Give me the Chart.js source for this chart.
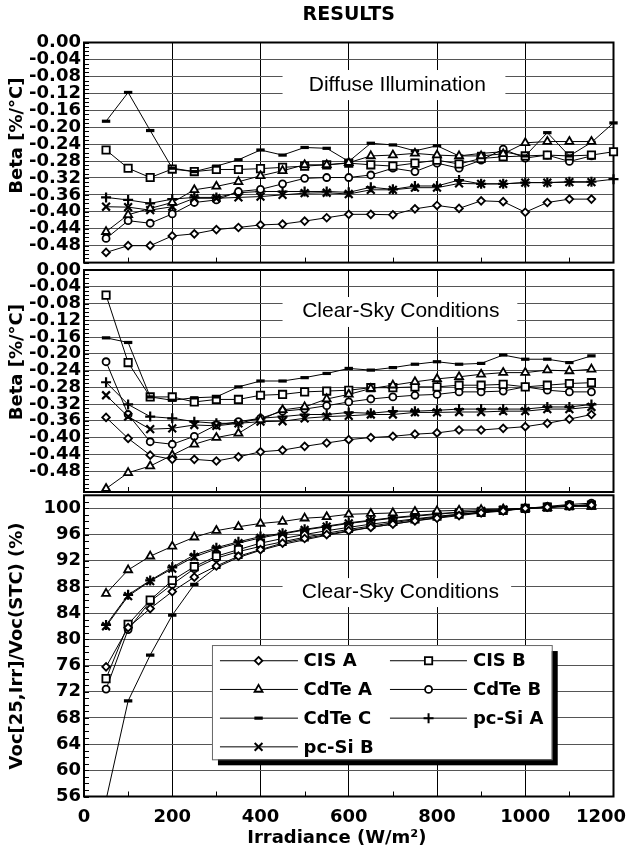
<!DOCTYPE html>
<html>
<head>
<meta charset="utf-8">
<title>Results</title>
<script src="https://cdn.jsdelivr.net/npm/chart.js@4.4.1/dist/chart.umd.min.js"></script>
<style>
  body { margin: 0; background: #fff; }
  #wrap { position: relative; width: 626px; height: 852px; overflow: hidden; }
  #wrap canvas { position: absolute; left: 0; }
</style>
</head>
<body>
<div id="wrap">
  <canvas id="diffuse" width="626" height="290" style="top:0px"></canvas>
  <canvas id="clearBeta" width="626" height="280" style="top:240px"></canvas>
  <canvas id="clearVoc" width="626" height="382" style="top:470px"></canvas>
</div>
<script>
// irradiance steps (W/m2), shared by every series
const irradiance = [50, 100, 150, 200, 250, 300, 350, 400, 450, 500, 550, 600,
                    650, 700, 750, 800, 850, 900, 950, 1000, 1050, 1100, 1150, 1200];

// tick labels
const irrTicks = [0, 200, 400, 600, 800, 1000, 1200];
const betaTicks = [0, -0.04, -0.08, -0.12, -0.16, -0.20, -0.24, -0.28, -0.32, -0.36, -0.40, -0.44, -0.48];
const vocTicks = [56, 60, 64, 68, 72, 76, 80, 84, 88, 92, 96, 100];

// panel 1 : beta, diffuse illumination (%/°C)
const diffCisA  = [-0.496, -0.480, -0.480, -0.457, -0.452, -0.442, -0.437, -0.431, -0.429, -0.422, -0.414, -0.406, -0.406, -0.407, -0.393, -0.385, -0.392, -0.374, -0.376, -0.401, -0.378, -0.370, -0.370];
const diffCisB  = [-0.254, -0.297, -0.319, -0.299, -0.305, -0.300, -0.300, -0.298, -0.295, -0.292, -0.289, -0.285, -0.289, -0.292, -0.285, -0.278, -0.287, -0.274, -0.270, -0.268, -0.266, -0.268, -0.266, -0.258];
const diffCdteA = [-0.447, -0.407, -0.392, -0.378, -0.348, -0.340, -0.329, -0.315, -0.303, -0.289, -0.289, -0.284, -0.268, -0.266, -0.262, -0.266, -0.268, -0.268, -0.263, -0.237, -0.234, -0.234, -0.234];
const diffCdteB = [-0.463, -0.421, -0.427, -0.405, -0.378, -0.372, -0.352, -0.347, -0.334, -0.321, -0.319, -0.319, -0.313, -0.297, -0.305, -0.285, -0.297, -0.278, -0.252, -0.273, -0.266, -0.281, -0.268];
const diffCdteC = [-0.186, -0.118, -0.208, -0.297, -0.305, -0.292, -0.277, -0.254, -0.266, -0.248, -0.250, -0.281, -0.238, -0.242, -0.256, -0.244, -0.268, -0.262, -0.258, -0.268, -0.213, -0.268, -0.236, -0.190];
const diffPcSiA = [-0.366, -0.372, -0.380, -0.370, -0.366, -0.366, -0.355, -0.352, -0.352, -0.352, -0.352, -0.354, -0.342, -0.347, -0.339, -0.339, -0.325, -0.334, -0.334, -0.331, -0.331, -0.329, -0.329, -0.323];
const diffPcSiB = [-0.388, -0.389, -0.396, -0.388, -0.368, -0.368, -0.366, -0.364, -0.360, -0.356, -0.355, -0.358, -0.348, -0.348, -0.343, -0.343, -0.333, -0.334, -0.334, -0.331, -0.331, -0.330, -0.330];

// panel 2 : beta, clear-sky conditions (%/°C)
const clearCisA  = [-0.352, -0.402, -0.442, -0.452, -0.452, -0.456, -0.446, -0.434, -0.430, -0.421, -0.413, -0.405, -0.400, -0.397, -0.392, -0.389, -0.382, -0.382, -0.378, -0.374, -0.366, -0.356, -0.345];
const clearCisB  = [-0.060, -0.221, -0.303, -0.303, -0.315, -0.309, -0.309, -0.299, -0.297, -0.291, -0.289, -0.287, -0.281, -0.281, -0.279, -0.279, -0.275, -0.275, -0.273, -0.279, -0.275, -0.271, -0.269];
const clearCdteA = [-0.522, -0.484, -0.468, -0.442, -0.416, -0.400, -0.390, -0.358, -0.334, -0.327, -0.308, -0.297, -0.283, -0.275, -0.267, -0.260, -0.255, -0.249, -0.245, -0.245, -0.239, -0.241, -0.237];
const clearCdteB = [-0.219, -0.345, -0.410, -0.416, -0.397, -0.370, -0.362, -0.354, -0.337, -0.332, -0.324, -0.315, -0.308, -0.303, -0.299, -0.297, -0.291, -0.291, -0.289, -0.279, -0.287, -0.291, -0.291];
const clearCdteC = [-0.162, -0.173, -0.303, -0.311, -0.305, -0.303, -0.279, -0.265, -0.265, -0.257, -0.247, -0.235, -0.239, -0.233, -0.225, -0.219, -0.225, -0.223, -0.203, -0.213, -0.213, -0.221, -0.205];
const clearPcSiA = [-0.268, -0.321, -0.350, -0.354, -0.362, -0.366, -0.366, -0.354, -0.350, -0.345, -0.345, -0.340, -0.342, -0.337, -0.337, -0.335, -0.332, -0.332, -0.332, -0.332, -0.327, -0.327, -0.321];
const clearPcSiB = [-0.299, -0.350, -0.380, -0.378, -0.370, -0.372, -0.366, -0.362, -0.361, -0.354, -0.350, -0.348, -0.345, -0.345, -0.340, -0.340, -0.339, -0.339, -0.337, -0.337, -0.332, -0.332, -0.327];

// panel 3 : Voc[25,Irr]/Voc(STC), clear-sky conditions (%)
const vocCisA  = [75.8, 81.8, 84.7, 87.3, 89.5, 91.2, 92.7, 93.7, 94.7, 95.4, 96.0, 96.6, 97.1, 97.6, 98.1, 98.5, 98.9, 99.3, 99.6, 100.0, 100.2, 100.4, 100.5];
const vocCisB  = [74.0, 82.3, 86.0, 89.0, 91.1, 92.7, 93.7, 94.7, 95.4, 96.0, 96.6, 97.1, 97.6, 98.0, 98.4, 98.8, 99.1, 99.4, 99.7, 100.0, 100.2, 100.4, 100.5];
const vocCdteA = [87.0, 90.6, 92.7, 94.2, 95.6, 96.6, 97.2, 97.7, 98.0, 98.5, 98.7, 99.1, 99.2, 99.3, 99.5, 99.6, 99.7, 99.8, 99.9, 100.0, 100.1, 100.3, 100.3];
const vocCdteB = [72.4, 81.5, 85.8, 88.4, 90.8, 92.4, 93.4, 94.2, 94.9, 95.6, 96.2, 96.8, 97.3, 97.8, 98.3, 98.7, 99.1, 99.4, 99.7, 100.0, 100.3, 100.6, 100.8];
const vocCdteC = [55.5, 70.6, 77.6, 83.7, 88.4, 91.0, 92.5, 93.6, 94.5, 95.2, 95.9, 96.5, 97.1, 97.6, 98.1, 98.6, 99.0, 99.4, 99.7, 100.0, 100.2, 100.4, 100.5];
const vocPcSiA = [82.2, 86.8, 89.0, 91.0, 92.9, 94.0, 94.9, 95.7, 96.2, 96.8, 97.3, 97.8, 98.2, 98.6, 98.9, 99.2, 99.4, 99.6, 99.8, 100.0, 100.2, 100.4, 100.5];
const vocPcSiB = [82.0, 86.6, 88.9, 90.8, 92.6, 93.8, 94.7, 95.5, 96.1, 96.7, 97.2, 97.7, 98.1, 98.5, 98.8, 99.1, 99.4, 99.6, 99.8, 100.0, 100.2, 100.4, 100.5];

// marker look for every module
const markers = {
  'CIS A':   { style: 'rectRot',  r: 3.8, w: 1.8 },
  'CIS B':   { style: 'rect',     r: 5.2, w: 1.8 },
  'CdTe A':  { style: 'triangle', r: 4.6, w: 1.8 },
  'CdTe B':  { style: 'circle',   r: 3.5, w: 1.8 },
  'CdTe C':  { style: 'line',     r: 4.2, w: 3.2 },
  'pc-Si A': { style: 'cross',    r: 5,   w: 2.2 },
  'pc-Si B': { style: 'crossRot', r: 5.5, w: 2.2 }
};
const legendRows = [['CIS A', 'CIS B'], ['CdTe A', 'CdTe B'], ['CdTe C', 'pc-Si A'], ['pc-Si B', null]];

const boldFont = { family: '"DejaVu Sans", sans-serif', size: 18, weight: 'bold' };
const BOLD = 'bold 18px "DejaVu Sans", sans-serif';

function makeDatasets(list) {
  return list.map(([name, arr]) => {
    const m = markers[name];
    return {
      label: name,
      data: irradiance.map((x, i) => ({ x: x, y: arr[i] })).filter(p => p.y !== undefined && p.y !== null),
      borderColor: '#000',
      borderWidth: 1,
      tension: 0,
      pointStyle: m.style,
      pointRadius: m.r,
      pointBorderWidth: m.w,
      pointBackgroundColor: '#fff',
      pointBorderColor: '#000'
    };
  });
}

// draws one legend marker the same way the chart does
function drawMarker(ctx, name, cx, cy) {
  const m = markers[name];
  const r = m.r;
  ctx.save();
  ctx.lineWidth = Math.min(m.w, 2);
  ctx.strokeStyle = '#000';
  ctx.fillStyle = '#fff';
  ctx.beginPath();
  if (m.style === 'rectRot') {
    ctx.moveTo(cx, cy - r); ctx.lineTo(cx + r, cy); ctx.lineTo(cx, cy + r); ctx.lineTo(cx - r, cy); ctx.closePath();
    ctx.fill(); ctx.stroke();
  } else if (m.style === 'rect') {
    const s = r * Math.SQRT1_2;
    ctx.rect(cx - s, cy - s, 2 * s, 2 * s); ctx.fill(); ctx.stroke();
  } else if (m.style === 'triangle') {
    ctx.moveTo(cx, cy - r); ctx.lineTo(cx + r * 0.866, cy + r * 0.5); ctx.lineTo(cx - r * 0.866, cy + r * 0.5); ctx.closePath();
    ctx.fill(); ctx.stroke();
  } else if (m.style === 'circle') {
    ctx.arc(cx, cy, r, 0, Math.PI * 2); ctx.fill(); ctx.stroke();
  } else if (m.style === 'line') {
    ctx.lineWidth = m.w;
    ctx.moveTo(cx - r, cy); ctx.lineTo(cx + r, cy); ctx.stroke();
  } else if (m.style === 'cross') {
    ctx.moveTo(cx - r, cy); ctx.lineTo(cx + r, cy); ctx.moveTo(cx, cy - r); ctx.lineTo(cx, cy + r); ctx.stroke();
  } else {
    const d = r * Math.SQRT1_2;
    ctx.moveTo(cx - d, cy - d); ctx.lineTo(cx + d, cy + d); ctx.moveTo(cx + d, cy - d); ctx.lineTo(cx - d, cy + d); ctx.stroke();
  }
  ctx.restore();
}

// frames, minor ticks, notes, titles and legend box
const panelDecor = {
  id: 'panelDecor',
  beforeDatasetsDraw(chart, args, opts) {
    const { ctx, chartArea: a, scales: { x, y } } = chart;
    ctx.save();
    if (opts.note) {
      const n = opts.note;
      const x0 = x.getPixelForValue(n.box[0]), x1 = x.getPixelForValue(n.box[1]);
      const y0 = y.getPixelForValue(n.box[2]), y1 = y.getPixelForValue(n.box[3]);
      ctx.fillStyle = '#fff';
      ctx.fillRect(x0, y0, x1 - x0, y1 - y0);
      ctx.fillStyle = '#000';
      ctx.font = '21px "Liberation Sans", Arial, sans-serif';
      ctx.textAlign = 'center';
      ctx.textBaseline = 'middle';
      ctx.fillText(n.text, x.getPixelForValue(n.at[0]), y.getPixelForValue(n.at[1]));
    }
    // minor ticks, inward
    ctx.strokeStyle = '#000';
    ctx.lineWidth = 1;
    ctx.beginPath();
    const steps = Math.round((y.max - y.min) / opts.minorY);
    for (let k = 0; k <= steps; k++) {
      const py = Math.round(y.getPixelForValue(y.max - k * opts.minorY)) + 0.5;
      ctx.moveTo(a.left, py); ctx.lineTo(a.left + 5, py);
    }
    for (let v = 100; v < 1200; v += 200) {
      const px = Math.round(x.getPixelForValue(v)) + 0.5;
      ctx.moveTo(px, a.bottom); ctx.lineTo(px, a.bottom - 5);
    }
    ctx.stroke();
    ctx.lineWidth = 2;
    ctx.strokeRect(a.left, a.top, a.right - a.left, a.bottom - a.top);
    ctx.restore();
  },
  afterDraw(chart, args, opts) {
    const { ctx, chartArea: a, scales: { x, y } } = chart;
    ctx.save();
    ctx.fillStyle = '#000';
    ctx.font = BOLD;
    ctx.textAlign = 'center';
    ctx.textBaseline = 'middle';
    if (opts.heading) {
      ctx.font = 'bold 19px "DejaVu Sans", sans-serif';
      ctx.fillText(opts.heading, (a.left + a.right) / 2, a.top - 27.5);
      ctx.font = BOLD;
    }
    // y title
    ctx.save();
    ctx.translate(17, opts.yTitleAt === undefined ? (a.top + a.bottom) / 2 : y.getPixelForValue(opts.yTitleAt));
    ctx.rotate(-Math.PI / 2);
    ctx.fillText(opts.yTitle, 0, 0);
    ctx.restore();
    if (opts.xTitle) {
      ctx.fillText(opts.xTitle, x.getPixelForValue(573), a.bottom + 41.5);
    }
    if (opts.legend) {
      const L = opts.legend;
      const bx = x.getPixelForValue(L.box[0]), bx1 = x.getPixelForValue(L.box[1]);
      const by = y.getPixelForValue(L.box[2]), by1 = y.getPixelForValue(L.box[3]);
      ctx.fillStyle = '#000';
      ctx.fillRect(bx + 6, by + 6, bx1 - bx, by1 - by);
      ctx.fillStyle = '#fff';
      ctx.fillRect(bx, by, bx1 - bx, by1 - by);
      ctx.strokeStyle = '#666';
      ctx.lineWidth = 1;
      ctx.strokeRect(bx + 0.5, by + 0.5, bx1 - bx, by1 - by);
      const cols = [{ l0: 8, l1: 86, m: 46.6, t: 91.6 }, { l0: 178, l1: 255, m: 216.6, t: 261 }];
      legendRows.forEach((row, ri) => {
        const cy = by + 15.7 + ri * 28.7;
        row.forEach((name, ci) => {
          if (!name) return;
          const c = cols[ci];
          ctx.strokeStyle = '#000';
          ctx.lineWidth = 1;
          ctx.beginPath();
          ctx.moveTo(bx + c.l0, cy); ctx.lineTo(bx + c.l1, cy);
          ctx.stroke();
          drawMarker(ctx, name, bx + c.m, cy);
          ctx.fillStyle = '#000';
          ctx.font = BOLD;
          ctx.textAlign = 'left';
          ctx.fillText(name, bx + c.t, cy + 1);
        });
      });
    }
    ctx.restore();
  }
};

function panelChart(id, datasets, cfg) {
  return new Chart(document.getElementById(id), {
    type: 'line',
    data: { datasets: datasets },
    options: {
      responsive: false,
      animation: false,
      layout: { padding: cfg.padding },
      plugins: {
        legend: { display: false },
        tooltip: { enabled: false },
        panelDecor: cfg.decor
      },
      scales: {
        x: {
          type: 'linear', min: 0, max: 1200,
          afterBuildTicks: s => { s.ticks = irrTicks.map(v => ({ value: v })); },
          ticks: {
            display: cfg.showX, color: '#000', font: boldFont, padding: 10,
            maxRotation: 0, autoSkip: false,
            callback: v => (v === 1200 ? '1200\u2007\u2007' : String(v))
          },
          grid: { color: '#000', lineWidth: 1, drawTicks: false },
          border: { display: false },
          afterFit: s => { s.height = cfg.xHeight; s.paddingLeft = 0; s.paddingRight = 0; }
        },
        y: {
          min: cfg.yMin, max: cfg.yMax,
          afterBuildTicks: s => { s.ticks = cfg.yTicks.map(v => ({ value: v })); },
          ticks: { color: '#000', font: boldFont, padding: 3, autoSkip: false, callback: cfg.fmt },
          grid: { color: '#555', lineWidth: 1, drawTicks: false },
          border: { display: false },
          afterFit: s => { s.width = 84; s.paddingTop = 0; s.paddingBottom = 0; }
        }
      }
    },
    plugins: [panelDecor]
  });
}

const betaFmt = v => (v === 0 ? '0.00' : v.toFixed(2));

panelChart('diffuse', makeDatasets([
  ['CIS A', diffCisA], ['CdTe A', diffCdteA], ['CdTe C', diffCdteC], ['pc-Si B', diffPcSiB],
  ['CIS B', diffCisB], ['CdTe B', diffCdteB], ['pc-Si A', diffPcSiA]
]).map(d => Object.assign(d, { clip: false })), {
  padding: { top: 42.5, bottom: 27.4, left: 0, right: 12.5 },
  showX: false, xHeight: 0, yMin: -0.52, yMax: 0, yTicks: betaTicks, fmt: betaFmt,
  decor: {
    heading: 'RESULTS', yTitle: 'Beta [%/°C]', yTitleAt: -0.22, minorY: 0.01,
    note: { text: 'Diffuse Illumination', box: [450, 955, -0.065, -0.136], at: [710, -0.100] }
  }
});

panelChart('clearBeta', makeDatasets([
  ['CIS A', clearCisA], ['CdTe A', clearCdteA], ['CdTe C', clearCdteC], ['pc-Si B', clearPcSiB],
  ['CIS B', clearCisB], ['CdTe B', clearCdteB], ['pc-Si A', clearPcSiA]
]).map(d => Object.assign(d, { clip: false })), {
  padding: { top: 30, bottom: 28, left: 0, right: 12.5 },
  showX: false, xHeight: 0, yMin: -0.53, yMax: 0, yTicks: betaTicks, fmt: betaFmt,
  decor: {
    yTitle: 'Beta [%/°C]', yTitleAt: -0.22, minorY: 0.01,
    note: { text: 'Clear-Sky Conditions', box: [450, 982, -0.0645, -0.136], at: [718, -0.098] }
  }
});

panelChart('clearVoc', makeDatasets([
  ['CIS A', vocCisA], ['CdTe A', vocCdteA], ['CdTe C', vocCdteC], ['pc-Si B', vocPcSiB],
  ['CIS B', vocCisB], ['CdTe B', vocCdteB], ['pc-Si A', vocPcSiA]
]).map(d => Object.assign(d, { clip: { left: 0, top: 8, right: 8, bottom: 0 } })), {
  padding: { top: 25.3, bottom: 0, left: 0, right: 12.5 },
  showX: true, xHeight: 55.5, yMin: 56, yMax: 102, yTicks: vocTicks, fmt: v => String(v),
  decor: {
    yTitle: 'Voc[25,Irr]/Voc(STC) (%)', minorY: 1, xTitle: 'Irradiance (W/m²)',
    note: { text: 'Clear-Sky Conditions', box: [450, 968, 89.36, 84.93], at: [717, 87.2] },
    legend: { box: [290, 1060, 79.13, 61.68] }
  }
});
</script>
</body>
</html>
